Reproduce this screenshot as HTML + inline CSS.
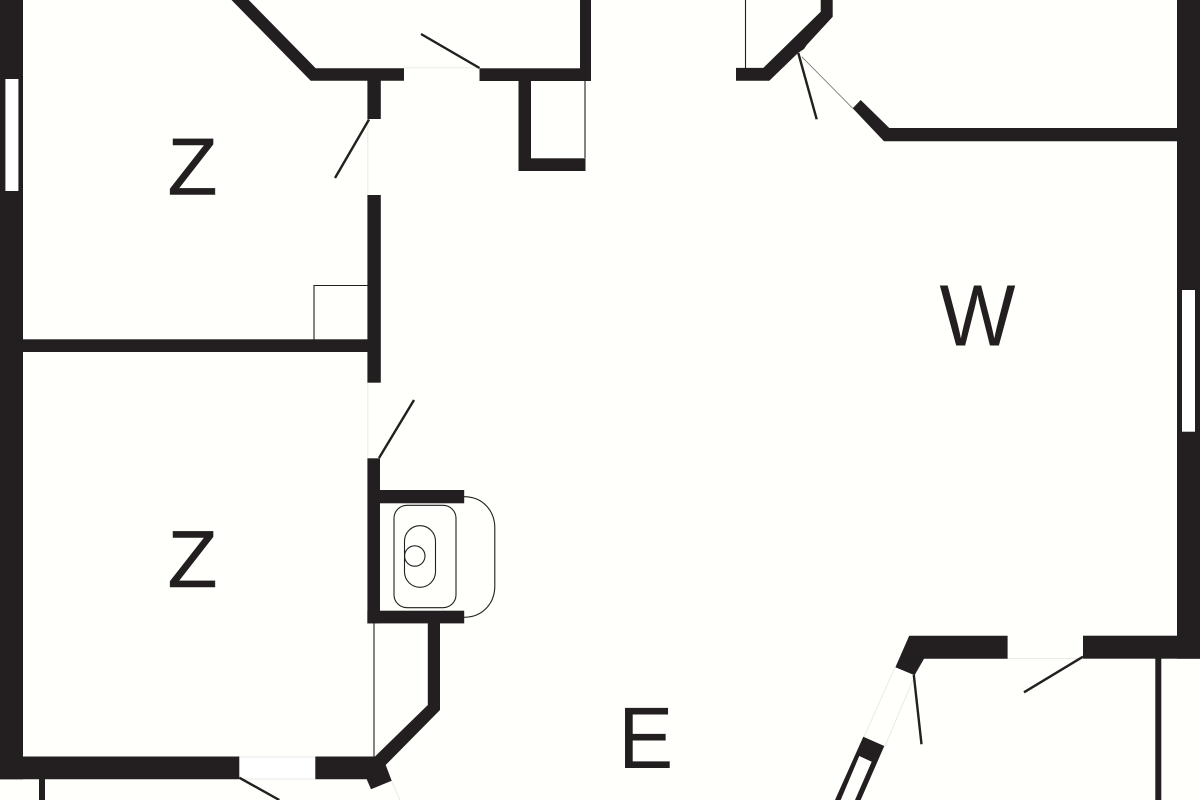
<!DOCTYPE html>
<html>
<head>
<meta charset="utf-8">
<style>
html,body{margin:0;padding:0;background:#fffffb;}
svg{display:block;}
text{font-family:"Liberation Sans",sans-serif;fill:#231f20;}
</style>
</head>
<body>
<svg width="1200" height="800" viewBox="0 0 1200 800" xmlns="http://www.w3.org/2000/svg">
<rect width="1200" height="800" fill="#fffffb"/>

<!-- faint opening lines -->
<g stroke="#ebebe6" stroke-width="1" fill="none">
<path d="M404 67.8H480"/>
<path d="M367.8 119V195"/>
<path d="M367.8 382V458"/>
<path d="M239 757H315M239 779H315"/>
<path d="M1007 658.5H1083"/>
<path d="M894.7 668L864 737"/>
<path d="M913 680L885 746"/>
<path d="M390.7 779L400 800"/>
</g>
<rect x="239" y="757.5" width="76" height="21" fill="#ffffff"/>

<!-- walls -->
<g fill="#231f20">
<rect x="0" y="0" width="23" height="779.3"/>
<polygon points="231.5,0 248.7,0 315.7,68.3 404,68.3 404,80.7 310.7,80.7"/>
<rect x="367.4" y="80" width="13.4" height="39"/>
<rect x="367.4" y="195" width="13.4" height="187.7"/>
<rect x="23" y="339.3" width="345" height="12.7"/>
<rect x="479.5" y="68.3" width="111.5" height="12.7"/>
<rect x="580" y="0" width="11" height="81"/>
<rect x="518.5" y="81" width="12.5" height="90"/>
<rect x="518.5" y="158.3" width="67" height="12.7"/>
<polygon points="736,67.9 763.3,67.9 820.7,11.7 820.7,0 832.7,0 832.7,16.7 806.7,45 804,49 798,53 769.3,80.7 736,80.7"/>
<polygon points="860.7,100 889.3,128 1177,128 1177,141.3 884,141.3 852.7,108.3"/>
<rect x="1177" y="0" width="23" height="658.7"/>
<rect x="367.4" y="458.3" width="12.6" height="165"/>
<rect x="380" y="490" width="84.2" height="13.3"/>
<rect x="367.4" y="610.7" width="96.8" height="12.7"/>
<polygon points="427.8,623 440,623 440,710 385.7,765 391.7,780.7 371,789.3 366.7,779.3 315.3,779.3 315.3,756.5 375,756.5 427.8,705"/>
<polygon points="0,756.5 239.3,756.5 239.3,779.3 0,779.3"/>
<rect x="39" y="779" width="6" height="21"/>
<polygon points="909.2,635.7 1007.6,635.7 1007.6,658.7 924,658.7 914.6,675.3 895.4,667.3"/>
<rect x="1083" y="635.7" width="117" height="23"/>
<rect x="1155.3" y="658" width="6" height="142"/>
<polygon points="863.3,736.7 884.3,746 860.7,800 855,800 871.7,761.7 859.3,756 840.7,800 835,800"/>
</g>

<!-- windows -->
<rect x="5.4" y="79" width="13" height="112" fill="#ffffff"/>
<rect x="1182" y="290" width="13" height="141.7" fill="#ffffff"/>

<!-- door leaves -->
<g stroke="#231f20" stroke-width="2.4" fill="none">
<path d="M369 119.5L335 178"/>
<path d="M421 34L479.5 68"/>
<path d="M798.3 53L816.7 119.3"/>
<path d="M379 458L414 400"/>
<path d="M239.3 777.7L279.3 800"/>
<path d="M1083 656.7L1024 692.3"/>
<path d="M913.8 675L921.5 744.3"/>
</g>

<!-- thin lines -->
<g stroke="#231f20" stroke-width="1.1" fill="none">
<path d="M314 339.5V285.5H367.5"/>
<path d="M585 81V158"/>
<path d="M745.5 0V68"/>
<path d="M374 623V757"/>
<path d="M464 496.7C483 496.7 494.8 511 494.8 528V586C494.8 603 483 617.3 464 617.3"/>
<rect x="394" y="505.3" width="62" height="102.4" rx="13" ry="13"/>
<rect x="404.5" y="525.7" width="31" height="61.6" rx="15.5" ry="15.5"/>
<circle cx="414.8" cy="556" r="10.2"/>
</g>
<path d="M801.7 56.7L852.7 108.3" stroke="#777" stroke-width="0.8" fill="none"/>

<!-- labels -->
<text x="167.5" y="194.7" font-size="81" textLength="50" lengthAdjust="spacingAndGlyphs" stroke="#231f20" stroke-width="0.5">Z</text>
<text x="167.5" y="587" font-size="81" textLength="50" lengthAdjust="spacingAndGlyphs" stroke="#231f20" stroke-width="0.5">Z</text>
<text x="939.5" y="345.7" font-size="87" textLength="76" lengthAdjust="spacingAndGlyphs">W</text>
<text x="618.3" y="768" font-size="87" textLength="55" lengthAdjust="spacingAndGlyphs">E</text>
</svg>
</body>
</html>
